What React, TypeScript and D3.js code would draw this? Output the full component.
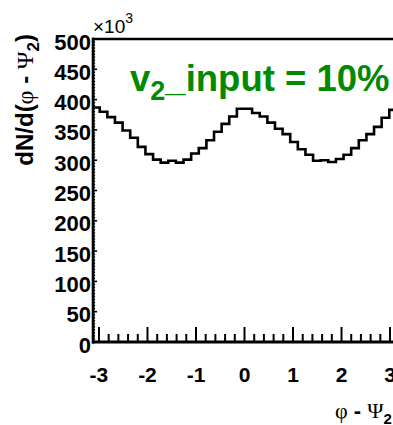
import React from "react";
import * as d3 from "d3";

// Azimuthal distribution relative to the event plane, 40 bins over [-pi, pi]
const binCounts = [
  387, 380, 371, 362, 349, 337, 322, 310, 301, 296,
  299, 296, 301, 311, 320, 333, 347, 360, 372, 385,
  385, 378, 372, 362, 352, 343, 330, 318, 309, 299,
  300, 297, 302, 309, 320, 333, 343, 355, 370, 383,
];
const yTicks = [0, 50, 100, 150, 200, 250, 300, 350, 400, 450, 500];
const xTicks = [-3, -2, -1, 0, 1, 2, 3];

const W = 393;
const H = 425;
const SANS = "'Liberation Sans', Arial, Helvetica, sans-serif";
const SERIF = "'Liberation Serif', 'Times New Roman', serif";

export default function App() {
  const x = d3.scaleLinear().domain([-Math.PI, Math.PI]).range([92.1, 396.9]);
  const y = d3.scaleLinear().domain([0, 500]).range([342, 39]);

  const nBins = binCounts.length;
  const binW = (2 * Math.PI) / nBins;
  const pts: [number, number][] = binCounts.map((v, i) => [-Math.PI + i * binW, v]);
  pts.push([Math.PI, binCounts[nBins - 1]]);
  const histPath = d3
    .line<[number, number]>()
    .x((d) => x(d[0]))
    .y((d) => y(d[1]))
    .curve(d3.curveStepAfter)(pts);

  const xMinor: number[] = [];
  for (let t = -3.2; t <= 3.2001; t += 0.2) {
    const r = Math.round(t * 10) / 10;
    if (r < -Math.PI || r > Math.PI) continue;
    if (Math.abs(r - Math.round(r)) < 1e-6) continue;
    xMinor.push(r);
  }
  const yMinor = d3.range(0, 501, 5).filter((v) => v % 50 !== 0);

  const x0 = x(-Math.PI);
  const yBase = y(0);

  return (
    <svg
      width={W}
      height={H}
      style={{ position: "absolute", left: 0, top: 0, background: "#fff" }}
    >
      <rect width={W} height={H} fill="#fff" />

      {/* histogram outline */}
      <path d={histPath || ""} fill="none" stroke="#000" strokeWidth={2.6} />

      {/* x-axis ticks */}
      {xTicks.map((t) => (
        <line key={"xM" + t} x1={x(t)} x2={x(t)} y1={yBase} y2={yBase - 15} stroke="#000" strokeWidth={2} />
      ))}
      {xMinor.map((t) => (
        <line key={"xm" + t} x1={x(t)} x2={x(t)} y1={yBase} y2={yBase - 8} stroke="#000" strokeWidth={2} />
      ))}

      {/* y-axis ticks */}
      {yTicks.map((t) => (
        <line key={"yM" + t} x1={x0} x2={x0 + 5} y1={y(t)} y2={y(t)} stroke="#000" strokeWidth={1.6} />
      ))}
      {yMinor.map((t) => (
        <line key={"ym" + t} x1={x0} x2={x0 + 3} y1={y(t)} y2={y(t)} stroke="#000" strokeWidth={1.4} />
      ))}

      {/* frame */}
      <line x1={x0} x2={W + 10} y1={y(500)} y2={y(500)} stroke="#000" strokeWidth={2.6} />
      <line x1={x0 + 1} x2={x0 + 1} y1={y(500) - 1.3} y2={yBase + 1.5} stroke="#000" strokeWidth={2.8} />
      <line x1={x0} x2={W + 10} y1={yBase} y2={yBase} stroke="#000" strokeWidth={3} />

      {/* y tick labels */}
      {yTicks.map((t) => (
        <text
          key={"yl" + t}
          x={91}
          y={y(t) + 10.5}
          textAnchor="end"
          fontFamily={SANS}
          fontWeight="bold"
          fontSize={22}
          fill="#000"
        >
          {t}
        </text>
      ))}

      {/* x tick labels */}
      {xTicks.map((t) => (
        <text
          key={"xl" + t}
          x={x(t)}
          y={381.5}
          textAnchor="middle"
          fontFamily={SANS}
          fontWeight="bold"
          fontSize={21}
          fill="#000"
        >
          {t < 0 ? "-" + Math.abs(t) : String(t)}
        </text>
      ))}

      {/* exponent */}
      <text x={93} y={33} fontFamily={SANS} fontSize={19} fill="#000">
        ×10
        <tspan fontSize={14} dy={-10}>3</tspan>
      </text>

      {/* y-axis title */}
      <text
        transform="translate(33,34) rotate(-90)"
        textAnchor="end"
        fontFamily={SANS}
        fontWeight="bold"
        fontSize={24}
        fill="#000"
      >
        dN/d(
        <tspan fontFamily={SERIF} fontWeight="normal">φ</tspan>
        {" - "}
        <tspan fontFamily={SERIF} fontWeight="normal">Ψ</tspan>
        <tspan fontSize={17} dy={6}>2</tspan>
        <tspan dy={-6}>)</tspan>
      </text>

      {/* x-axis title */}
      <text x={335} y={418} fontFamily={SANS} fontWeight="bold" fontSize={22} fill="#000">
        <tspan fontFamily={SERIF} fontWeight="normal">φ</tspan>
        {" - "}
        <tspan fontFamily={SERIF} fontWeight="normal">Ψ</tspan>
        <tspan fontSize={15} dy={6}>2</tspan>
      </text>

      {/* annotation */}
      <text x={130} y={91} fontFamily={SANS} fontWeight="bold" fontSize={36.5} fill="#008a00">
        v
        <tspan fontSize={27} dy={9}>2</tspan>
        <tspan dy={-9}>_input = 10%</tspan>
      </text>
    </svg>
  );
}
